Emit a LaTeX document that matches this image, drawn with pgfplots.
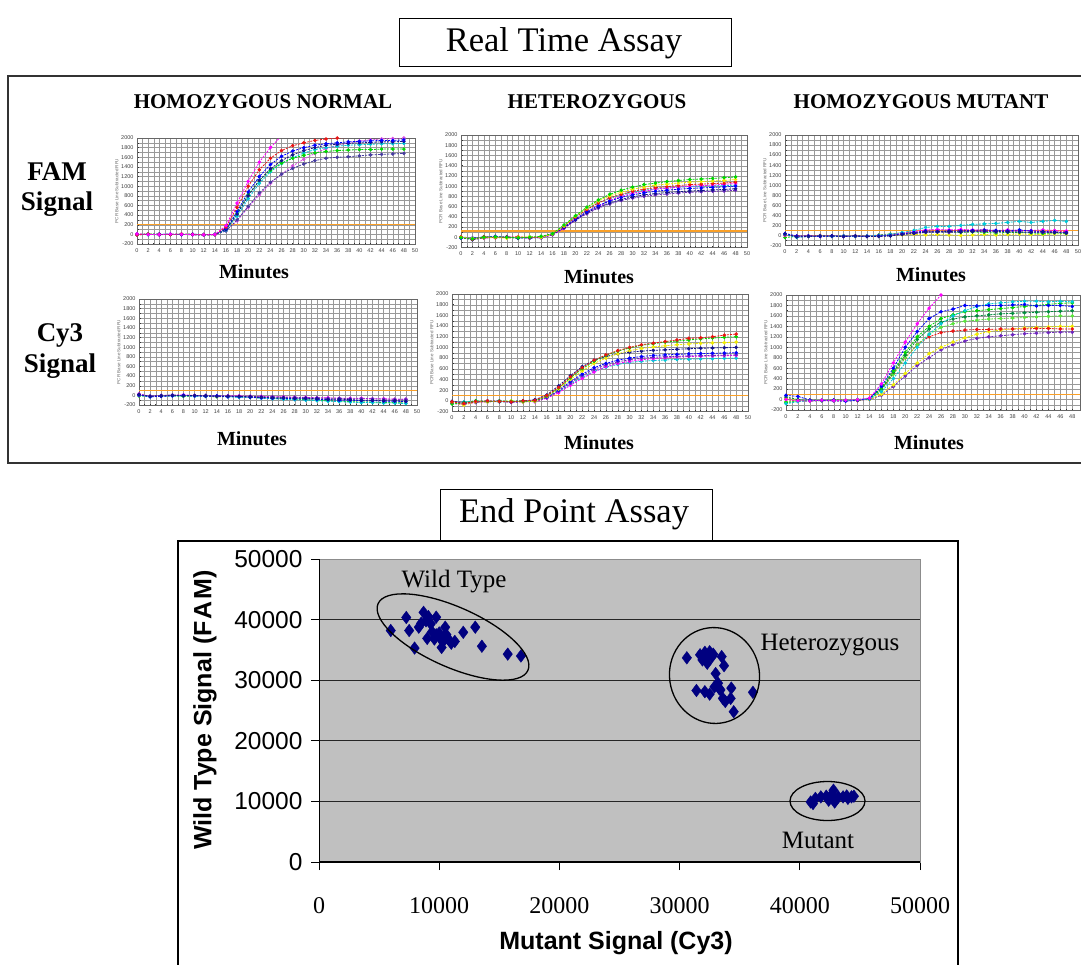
\documentclass[border=0pt]{standalone}
\usepackage{fontspec}
\setmainfont{Liberation Serif}
\newfontfamily\arial{Liberation Sans}
\usepackage{pgfplots}
\usepackage{pgfplotstable}
\pgfplotsset{compat=1.18}

\definecolor{cMag}{RGB}{255,0,255}
\definecolor{cRed}{RGB}{235,20,20}
\definecolor{cBlue}{RGB}{0,0,255}
\definecolor{cNavy}{RGB}{20,20,140}
\definecolor{cGreen}{RGB}{0,215,0}
\definecolor{cCyan}{RGB}{0,200,215}
\definecolor{cSlate}{RGB}{70,60,160}
\definecolor{cPink}{RGB}{215,80,225}
\definecolor{cYellow}{RGB}{240,235,0}
\definecolor{cPurple}{RGB}{110,40,190}
\definecolor{cDGreen}{RGB}{0,140,60}
\definecolor{cLime}{RGB}{90,230,60}
\definecolor{cThr}{RGB}{250,160,40}
\definecolor{cMark}{RGB}{0,0,128}
\definecolor{cBg}{RGB}{192,192,192}

\pgfplotsset{
  /pgf/number format/1000 sep={},
  /pgf/number format/assume math mode=true,
  rt/.style={
    anchor=south west, scale only axis,
    xmin=0, xmax=50, ymin=-200, ymax=2000,
    xtick={0,2,...,50}, ytick={-200,0,...,2000},
    minor x tick num=1, minor y tick num=1,
    grid=both,
    major grid style={black!40, line width=0.35pt},
    minor grid style={black!40, line width=0.35pt},
    tick label style={font=\arial\fontsize{5.5}{5.5}\selectfont, text=black!75},
    xticklabel style={yshift=-1pt},
    axis line style={black!60, line width=0.5pt},
    tick style={black!80, line width=0.4pt},
    major tick length=1.5pt, minor tick length=1.5pt,
    tick pos=left,
    ylabel={PCR Base Line Subtracted RFU},
    ylabel style={font=\arial\fontsize{4.5}{4.5}\selectfont, text=black!60, yshift=-4pt},
    every axis plot/.append style={dash pattern=on 2pt off 1.2pt, line width=0.8pt,
      mark=*, mark size=1.35pt, mark options={solid}},
  },
  thr/.style={color=cThr, solid, line width=1.3pt, mark=none},
}
\newcommand\rt[3]{\addplot[color=#1] table[x=t,y=#2]{#3};}

% ---------- Row 1, column 1: FAM, homozygous normal
\pgfplotstableread{
t s1 s2 s3 s4 s5 s6 s7 s8
0 10 -10 0 5 -5 0 -10 0
2 0 5 -5 0 10 -5 0 5
4 -5 0 5 -10 0 5 -5 0
6 5 -5 0 5 -5 0 5 -5
8 0 5 -5 0 5 -5 0 5
10 -5 0 5 -5 0 5 -10 0
12 -10 -5 -5 -10 -10 -5 -15 -10
14 0 -5 0 -5 0 0 -5 -5
16 180 150 120 100 110 90 70 80
18 650 560 470 420 440 380 300 280
20 1100 1000 880 800 820 740 580 560
22 1500 1340 1200 1120 1120 1060 860 820
24 1800 1580 1450 1360 1330 1300 1080 1060
26 2050 1740 1620 1530 1480 1470 1250 1250
28 2250 1840 1730 1650 1580 1590 1370 1420
30 2400 1900 1800 1740 1640 1690 1460 1560
32 2500 1950 1850 1800 1690 1760 1530 1680
34 2600 1980 1880 1850 1720 1800 1580 1780
36 2650 2000 1900 1870 1740 1830 1600 1850
38 2700 2010 1920 1890 1750 1850 1610 1900
40 2700 2020 1930 1900 1760 1860 1630 1940
42 2700 2030 1940 1910 1760 1870 1650 1960
44 2700 2030 1950 1920 1770 1880 1660 1980
46 2700 2040 1950 1920 1770 1880 1670 1990
48 2700 2040 1960 1930 1770 1890 1680 2000
}\tAA

% ---------- Row 1, column 2: FAM, heterozygous
\pgfplotstableread{
t s1 s2 s3 s4 s5 s6 s7 s8
0 -10 0 10 -20 0 -10 0 10
2 -30 -20 -40 -10 -50 -20 -30 -20
4 0 -10 10 0 -10 0 -20 10
6 10 0 -10 20 0 10 0 -10
8 0 -20 0 -10 10 -10 10 0
10 -10 0 10 0 -20 0 -10 -20
12 0 10 -10 -20 0 -10 0 10
14 20 0 10 0 -10 10 -10 0
16 70 60 65 60 55 50 45 70
18 240 220 215 200 190 180 170 230
20 420 410 390 360 340 330 340 400
22 590 570 540 500 480 460 480 560
24 730 710 670 620 590 570 600 680
26 840 810 770 710 670 650 720 760
28 920 880 840 780 740 720 800 830
30 980 940 900 830 790 765 860 880
32 1030 980 940 870 830 800 900 920
34 1060 1020 970 900 855 830 940 945
36 1090 1040 990 920 875 845 960 965
38 1110 1060 1010 940 890 865 980 980
40 1130 1080 1030 955 905 880 1000 990
42 1140 1090 1040 965 915 890 1010 1000
44 1150 1100 1050 975 925 900 1020 1005
46 1165 1110 1060 985 935 905 1035 1010
48 1180 1130 1080 1000 950 920 1050 1020
}\tAB

% ---------- Row 1, column 3: FAM, homozygous mutant
\pgfplotstableread{
t s1 s2 s3 s4 s5 s6 s7 s8
0 20 40 30 -40 10 0 10 20
2 -40 -10 -30 -20 -20 -10 -20 -30
4 -20 -10 -20 -10 -20 -10 -10 -20
6 -10 -20 -10 -20 -10 0 -20 -10
8 -20 -10 -10 -10 -20 -10 -10 -20
10 -10 -20 -20 -10 -10 -20 -10 -10
12 -20 -10 -10 -20 -20 -10 -20 -20
14 -10 -20 -20 -10 -10 -10 -10 -20
16 0 -10 -20 10 -10 0 0 -15
18 20 0 -10 30 0 10 20 0
20 60 30 20 50 10 40 50 20
22 100 60 40 60 20 60 80 40
24 160 90 70 60 10 80 110 60
26 180 80 70 70 20 90 120 70
28 180 90 80 60 10 90 110 60
30 200 90 70 60 0 100 120 70
32 220 100 80 70 10 100 110 80
34 230 110 90 60 20 110 110 80
36 240 100 80 50 10 90 100 70
38 260 90 70 60 20 90 110 80
40 280 110 70 60 30 100 100 70
42 260 90 60 50 20 90 100 70
44 280 80 70 40 20 80 110 60
46 300 70 60 50 30 90 100 60
48 280 60 50 40 30 80 90 50
}\tAC

% ---------- Row 2, column 1: Cy3, homozygous normal
\pgfplotstableread{
t s1 s2 s3 s4 s5 s6
0 20 10 0 30 -10 0
2 -20 -30 -10 -20 -20 -30
4 -10 -20 0 -10 -10 -20
6 0 -10 10 0 -10 -10
8 -10 0 0 10 -20 -10
10 0 -10 -10 0 -10 -20
12 -10 -20 0 -10 -20 -20
14 -20 -10 -10 -20 -30 -20
16 -20 -30 -10 -10 -20 -30
18 -20 -30 -20 -10 -30 -40
20 -30 -40 -20 -20 -40 -40
22 -40 -50 -30 -20 -50 -60
24 -50 -60 -30 -30 -60 -70
26 -50 -60 -40 -30 -70 -80
28 -60 -70 -40 -40 -80 -90
30 -60 -70 -50 -40 -90 -100
32 -70 -80 -50 -50 -100 -110
34 -80 -90 -60 -50 -110 -120
36 -80 -100 -60 -60 -120 -130
38 -90 -100 -70 -60 -130 -140
40 -100 -110 -70 -60 -140 -150
42 -100 -110 -70 -70 -140 -150
44 -110 -120 -80 -70 -150 -160
46 -110 -120 -80 -80 -150 -160
48 -120 -130 -80 -80 -160 -170
}\tBA

% ---------- Row 2, column 2: Cy3, heterozygous
\pgfplotstableread{
t s1 s2 s3 s4 s5 s6 s7 s8
0 -20 -60 -30 -10 -40 -20 -30 -50
2 -50 -40 -80 -30 -60 -40 -20 -70
4 -10 0 -20 -30 -10 -20 0 -30
6 0 -10 -20 0 -20 -10 -10 -20
8 -10 0 -10 -20 0 -10 -20 0
10 -20 -10 0 -10 -20 -30 -10 -20
12 0 -10 -20 0 -10 -20 0 -10
14 10 0 -10 20 0 -10 10 -20
16 100 90 80 110 70 60 60 50
18 250 240 220 280 200 180 170 150
20 450 430 400 470 360 330 310 290
22 620 600 560 640 500 470 440 420
24 760 740 700 760 620 590 550 540
26 860 850 800 830 700 670 630 640
28 940 930 880 880 760 730 680 700
30 1000 990 940 910 800 770 720 740
32 1050 1040 980 930 830 800 740 770
34 1080 1070 1010 945 850 815 755 790
36 1110 1100 1030 955 860 825 765 805
38 1140 1120 1050 965 870 835 775 820
40 1170 1140 1065 975 880 840 780 830
42 1180 1160 1075 985 885 845 785 835
44 1200 1175 1085 990 890 850 790 840
46 1230 1190 1090 995 895 855 795 845
48 1250 1200 1100 1000 900 860 800 850
}\tBB

% ---------- Row 2, column 3: Cy3, homozygous mutant
\pgfplotstableread{
t s1 s2 s3 s4 s5 s6 s7 s8 s9
0 0 80 -80 -60 50 -40 0 20 30
2 -20 60 -40 -30 0 -20 -30 -10 -20
4 -30 -10 -20 -10 -20 -30 -10 -20 -30
6 -10 -20 -10 -20 -10 -20 -20 -10 -20
8 -20 -10 -20 -10 -20 -10 -10 -20 -30
10 -10 -30 -20 -10 -20 -20 -10 -20 -30
12 0 -10 -10 0 -10 -10 -20 -10 -20
14 30 20 10 20 15 10 20 0 0
16 300 250 150 220 200 180 200 100 80
18 700 600 400 550 520 480 500 280 250
20 1100 1000 700 900 850 800 800 500 450
22 1450 1300 1000 1200 1150 1050 1050 700 650
24 1750 1550 1250 1400 1350 1250 1200 880 800
26 2000 1680 1450 1550 1480 1380 1280 1000 950
28 2300 1730 1600 1620 1540 1450 1310 1100 1050
30 2500 1800 1700 1680 1580 1500 1330 1180 1120
32 2600 1790 1780 1700 1600 1520 1340 1250 1170
34 2700 1800 1830 1720 1620 1540 1340 1300 1200
36 2700 1800 1850 1740 1640 1550 1350 1330 1220
38 2700 1810 1870 1760 1650 1560 1350 1350 1240
40 2700 1820 1880 1780 1660 1570 1350 1370 1260
42 2700 1790 1880 1800 1670 1580 1360 1380 1270
44 2700 1800 1870 1820 1680 1590 1360 1390 1280
46 2700 1800 1880 1840 1690 1600 1350 1400 1290
48 2700 1780 1870 1850 1700 1600 1350 1400 1290
}\tBC

% ---------- End point assay
\pgfplotstableread{
x y
5970 38200
7260 40350
7500 38200
7950 35300
8300 38750
8700 41200
8500 39400
9100 40500
9000 36900
9400 38000
9750 40400
9750 37500
10200 35400
10400 37200
10500 38750
10800 36700
11000 36100
11300 36400
12000 37900
13000 38750
13550 35600
15700 34300
16800 34000
9600 36800
10000 37800
10300 36300
9300 39300
10600 37500
8900 39800
10100 37000
}\tWild

\pgfplotstableread{
x y
30600 33700
31700 34200
32100 34600
32500 34700
31900 33350
32300 32800
32700 33900
33500 33900
33700 32400
33000 31100
31400 28300
32100 28100
32500 27700
32900 28900
33200 29500
33400 28400
33600 27000
33800 26500
34300 28700
34250 27000
34500 24800
36100 28000
32000 33800
32400 34100
32800 34300
33300 28600
}\tHet

\pgfplotstableread{
x y
40900 9900
41300 10500
41750 10750
42200 10860
42400 10200
42800 11850
42900 9900
43200 10750
43600 10750
44000 10500
44300 10750
44500 10860
41100 9650
42600 11000
43000 10300
43900 10900
}\tMut

\begin{document}
\begin{tikzpicture}[x=1pt,y=1pt]

% ---------------- Real time assay ----------------
\draw[black, line width=1pt] (399pt,-18pt) rectangle (731pt,-66pt);
\node[font=\fontsize{34.5}{34.5}\selectfont] at (564pt,-43pt) {Real Time Assay};
\draw[black!80, line width=1.5pt] (8pt,-76pt) rectangle (1100pt,-463pt);

\node[font=\bfseries\fontsize{21}{21}\selectfont] at (263pt,-102pt) {HOMOZYGOUS NORMAL};
\node[font=\bfseries\fontsize{21}{21}\selectfont] at (597pt,-102pt) {HETEROZYGOUS};
\node[font=\bfseries\fontsize{21}{21}\selectfont] at (921pt,-102pt) {HOMOZYGOUS MUTANT};

\node[font=\bfseries\fontsize{27}{27}\selectfont] at (57pt,-172pt) {FAM};
\node[font=\bfseries\fontsize{27}{27}\selectfont] at (57pt,-204pt) {Signal};
\node[font=\bfseries\fontsize{27}{27}\selectfont] at (60pt,-335pt) {Cy3};
\node[font=\bfseries\fontsize{27}{27}\selectfont] at (60pt,-366pt) {Signal};

\begin{axis}[rt, at={(137pt,-244pt)}, width=278pt, height=106pt]
\addplot[thr] coordinates {(0,200) (50,200)};
\rt{cPink}{s8}{\tAA}
\rt{cSlate}{s7}{\tAA}
\rt{cCyan}{s6}{\tAA}
\rt{cGreen}{s5}{\tAA}
\rt{cNavy}{s4}{\tAA}
\rt{cBlue}{s3}{\tAA}
\rt{cRed}{s2}{\tAA}
\rt{cMag}{s1}{\tAA}
\end{axis}

\begin{axis}[rt, at={(461pt,-247.5pt)}, width=286pt, height=112.5pt]
\addplot[thr] coordinates {(0,120) (50,120)};
\rt{cCyan}{s8}{\tAB}
\rt{cMag}{s7}{\tAB}
\rt{cPurple}{s6}{\tAB}
\rt{cNavy}{s5}{\tAB}
\rt{cBlue}{s4}{\tAB}
\rt{cRed}{s3}{\tAB}
\rt{cYellow}{s2}{\tAB}
\rt{cGreen}{s1}{\tAB}
\end{axis}

\begin{axis}[rt, at={(785pt,-245.5pt)}, width=293pt, height=110.5pt]
\addplot[thr] coordinates {(0,100) (50,100)};
\rt{cYellow}{s5}{\tAC}
\rt{cGreen}{s4}{\tAC}
\rt{cRed}{s6}{\tAC}
\rt{cMag}{s7}{\tAC}
\rt{cPurple}{s8}{\tAC}
\rt{cCyan}{s1}{\tAC}
\rt{cBlue}{s2}{\tAC}
\rt{cNavy}{s3}{\tAC}
\end{axis}

\begin{axis}[rt, at={(139pt,-405pt)}, width=278pt, height=106pt]
\addplot[thr] coordinates {(0,100) (50,100)};
\rt{cGreen}{s5}{\tBA}
\rt{cCyan}{s6}{\tBA}
\rt{cMag}{s4}{\tBA}
\rt{cPurple}{s3}{\tBA}
\rt{cBlue}{s2}{\tBA}
\rt{cNavy}{s1}{\tBA}
\end{axis}

\begin{axis}[rt, at={(452pt,-411.5pt)}, width=296pt, height=117.5pt]
\addplot[thr] coordinates {(0,100) (50,100)};
\rt{cCyan}{s7}{\tBB}
\rt{cMag}{s8}{\tBB}
\rt{cPurple}{s6}{\tBB}
\rt{cBlue}{s5}{\tBB}
\rt{cNavy}{s4}{\tBB}
\rt{cYellow}{s3}{\tBB}
\rt{cGreen}{s2}{\tBB}
\rt{cRed}{s1}{\tBB}
\end{axis}

\begin{axis}[rt, at={(786pt,-410pt)}, width=294pt, height=115pt, xmax=49.3,
  xtick={0,2,...,48}]
\addplot[thr] coordinates {(0,100) (50,100)};
\rt{cPurple}{s9}{\tBC}
\rt{cYellow}{s8}{\tBC}
\rt{cRed}{s7}{\tBC}
\rt{cLime}{s6}{\tBC}
\rt{cDGreen}{s5}{\tBC}
\rt{cGreen}{s4}{\tBC}
\rt{cCyan}{s3}{\tBC}
\rt{cBlue}{s2}{\tBC}
\rt{cMag}{s1}{\tBC}
\end{axis}

\node[font=\bfseries\fontsize{20}{20}\selectfont] at (254pt,-272pt) {Minutes};
\node[font=\bfseries\fontsize{20}{20}\selectfont] at (599pt,-277pt) {Minutes};
\node[font=\bfseries\fontsize{20}{20}\selectfont] at (931pt,-275pt) {Minutes};
\node[font=\bfseries\fontsize{20}{20}\selectfont] at (252pt,-439pt) {Minutes};
\node[font=\bfseries\fontsize{20}{20}\selectfont] at (599pt,-443pt) {Minutes};
\node[font=\bfseries\fontsize{20}{20}\selectfont] at (929pt,-443pt) {Minutes};

% ---------------- End point assay ----------------
\draw[black, line width=1.2pt] (178pt,-541pt) rectangle (958pt,-975pt);
\draw[black, line width=1pt] (440pt,-489pt) rectangle (712pt,-541pt);
\node[font=\fontsize{34.5}{34.5}\selectfont] at (574pt,-514pt) {End Point Assay};

\begin{axis}[at={(319pt,-862pt)}, anchor=south west, scale only axis,
  width=601pt, height=303pt,
  xmin=0, xmax=50000, ymin=0, ymax=50000,
  xtick={0,10000,20000,30000,40000,50000},
  ytick={0,10000,20000,30000,40000,50000},
  scaled ticks=false,
  axis background/.style={fill=cBg},
  ymajorgrids, major grid style={black!85, line width=1pt},
  axis line style={draw=black!45, line width=0.8pt},
  tick pos=left, tick align=outside, major tick length=8pt,
  tick style={black, line width=1pt},
  xticklabel style={font=\fontsize{24}{24}\selectfont, yshift=-24pt},
  yticklabel style={font=\arial\fontsize{24.5}{24.5}\selectfont, xshift=-5pt},
]
\draw[black, line width=1.1pt] (axis cs:0,0) -- (axis cs:0,50000);
\draw[black, line width=1.1pt] (axis cs:0,0) -- (axis cs:50000,0);
\addplot[only marks, mark=diamond*, mark size=6.3pt, color=cMark] table[x=x,y=y]{\tWild};
\addplot[only marks, mark=diamond*, mark size=6.3pt, color=cMark] table[x=x,y=y]{\tHet};
\addplot[only marks, mark=diamond*, mark size=6.3pt, color=cMark] table[x=x,y=y]{\tMut};
\end{axis}

\draw[black, line width=1.3pt, rotate around={-24:(453pt,-637pt)}] (453pt,-637pt) ellipse (82pt and 30pt);
\draw[black, line width=1.3pt, rotate around={8:(714.5pt,-675.5pt)}] (714.5pt,-675.5pt) ellipse (45pt and 48pt);
\draw[black, line width=1.3pt] (827.5pt,-801pt) ellipse (37.5pt and 19.5pt);

\node[font=\fontsize{25}{25}\selectfont] at (454pt,-582pt) {Wild Type};
\node[font=\fontsize{25}{25}\selectfont] at (830pt,-645pt) {Heterozygous};
\node[font=\fontsize{25}{25}\selectfont] at (818pt,-840pt) {Mutant};

\node[font=\arial\bfseries\fontsize{25}{25}\selectfont, rotate=90] at (205pt,-710pt) {Wild Type Signal (F\kern2pt A\kern2pt M)};
\node[font=\arial\bfseries\fontsize{25}{25}\selectfont] at (616pt,-943pt) {Mutant Signal (Cy3)};

\pgfresetboundingbox
\useasboundingbox (0pt,0pt) rectangle (1081pt,-964pt);
\end{tikzpicture}
\end{document}
